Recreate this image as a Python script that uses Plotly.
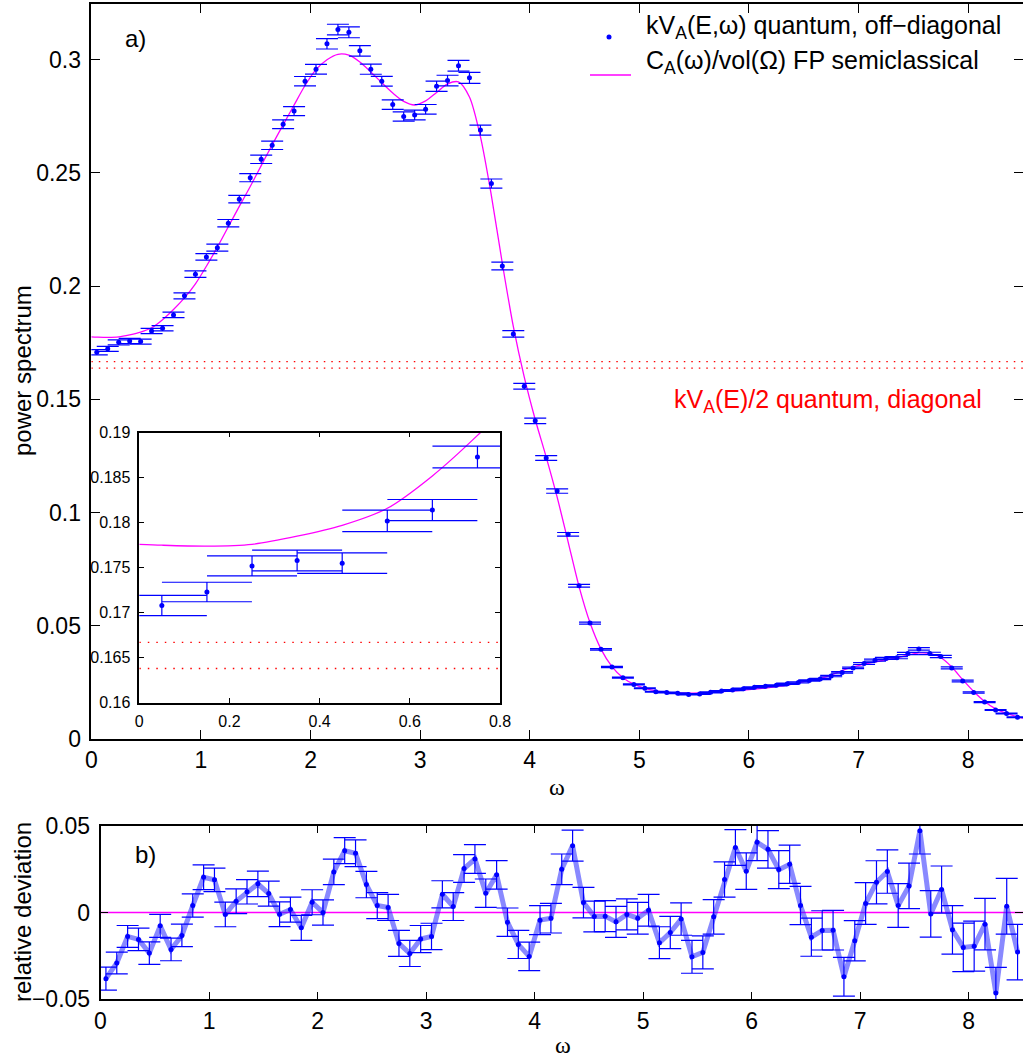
import plotly.graph_objects as go

W, H = 1023, 1059

# ---------------- data ----------------
omega = [0.05, 0.15, 0.25, 0.35, 0.45, 0.55, 0.65, 0.75, 0.85, 0.95,
         1.05, 1.15, 1.25, 1.35, 1.45, 1.55, 1.65, 1.75, 1.85, 1.95,
         2.05, 2.15, 2.25, 2.35, 2.45, 2.55, 2.65, 2.75, 2.85, 2.95,
         3.05, 3.15, 3.25, 3.35, 3.45, 3.55, 3.65, 3.75, 3.85, 3.95,
         4.05, 4.15, 4.25, 4.35, 4.45, 4.55, 4.65, 4.75, 4.85, 4.95,
         5.05, 5.15, 5.25, 5.35, 5.45, 5.55, 5.65, 5.75, 5.85, 5.95,
         6.05, 6.15, 6.25, 6.35, 6.45, 6.55, 6.65, 6.75, 6.85, 6.95,
         7.05, 7.15, 7.25, 7.35, 7.45, 7.55, 7.65, 7.75, 7.85, 7.95,
         8.05, 8.15, 8.25, 8.35, 8.45]

# kV_A(E, omega) quantum off-diagonal
quantum = [0.1708, 0.1723, 0.1752, 0.1758, 0.1755, 0.1802, 0.1814, 0.1873, 0.1957, 0.2053,
           0.2129, 0.2170, 0.2278, 0.2384, 0.2479, 0.2560, 0.2622, 0.2715, 0.2773, 0.2905,
           0.2958, 0.3070, 0.3133, 0.3121, 0.3039, 0.2958, 0.2905, 0.2802, 0.2749, 0.2756,
           0.2781, 0.2883, 0.2908, 0.2973, 0.2920, 0.2689, 0.2453, 0.2089, 0.1789, 0.1558,
           0.1405, 0.1241, 0.1095, 0.0904, 0.0677, 0.0512, 0.0396, 0.0318, 0.0271, 0.0241,
           0.0224, 0.0209, 0.0205, 0.0202, 0.0197, 0.0199, 0.0206, 0.0212, 0.0216, 0.0222,
           0.0228, 0.0233, 0.0237, 0.0244, 0.0250, 0.0258, 0.0265, 0.0278, 0.0294, 0.0314,
           0.0333, 0.0348, 0.0356, 0.0359, 0.0378, 0.0398, 0.0378, 0.0364, 0.0314, 0.0256,
           0.0205, 0.0163, 0.0128, 0.0113, 0.0096]

# relative deviation (panel b)
deviation = [-0.0381, -0.0291, -0.0138, -0.0155, -0.0234, -0.0077, -0.0213, -0.0132, 0.0040, 0.0203,
             0.0188, -0.0011, 0.0065, 0.0119, 0.0165, 0.0109, -0.0010, 0.0017, -0.0088, 0.0059,
             0.0000, 0.0234, 0.0356, 0.0341, 0.0161, 0.0040, 0.0029, -0.0178, -0.0236, -0.0153,
             -0.0138, 0.0105, 0.0034, 0.0253, 0.0308, 0.0111, 0.0217, -0.0056, -0.0184, -0.0253,
             -0.0044, -0.0033, 0.0249, 0.0385, 0.0057, -0.0023, -0.0021, -0.0054, -0.0011, -0.0033,
             0.0013, -0.0174, -0.0115, -0.0038, -0.0255, -0.0230, -0.0025, 0.0190, 0.0374, 0.0238,
             0.0404, 0.0364, 0.0247, 0.0278, 0.0040, -0.0142, -0.0103, -0.0102, -0.0370, -0.0163,
             0.0052, 0.0174, 0.0236, 0.0040, 0.0153, 0.0471, -0.0008, 0.0132, -0.0100, -0.0201,
             -0.0194, -0.0067, -0.0464, 0.0036, -0.0228]

# relative statistical error (half-height of bars in panel b)
rel_err = [0.0066, 0.0063, 0.0063, 0.0065, 0.0065, 0.0066, 0.0065, 0.0065, 0.0067, 0.0071,
           0.0068, 0.0071, 0.0071, 0.0070, 0.0073, 0.0072, 0.0071, 0.0072, 0.0072, 0.0072,
           0.0073, 0.0074, 0.0075, 0.0077, 0.0076, 0.0075, 0.0075, 0.0075, 0.0075, 0.0078,
           0.0076, 0.0078, 0.0080, 0.0080, 0.0083, 0.0082, 0.0082, 0.0082, 0.0081, 0.0082,
           0.0084, 0.0085, 0.0088, 0.0089, 0.0088, 0.0089, 0.0089, 0.0089, 0.0089, 0.0091,
           0.0091, 0.0092, 0.0093, 0.0093, 0.0095, 0.0095, 0.0099, 0.0102, 0.0103, 0.0105,
           0.0105, 0.0108, 0.0109, 0.0110, 0.0110, 0.0110, 0.0113, 0.0114, 0.0112, 0.0116,
           0.0120, 0.0124, 0.0125, 0.0126, 0.0131, 0.0134, 0.0134, 0.0136, 0.0140, 0.0140,
           0.0144, 0.0148, 0.0148, 0.0160, 0.0160]

# C_A(omega)/vol(Omega) FP semiclassical curve
curve_x = [0.0, 0.05, 0.15, 0.25, 0.35, 0.45, 0.55, 0.65, 0.75, 0.85, 0.95,
           1.05, 1.15, 1.25, 1.35, 1.45, 1.55, 1.65, 1.75, 1.85, 1.95,
           2.05, 2.15, 2.25, 2.35, 2.45, 2.55, 2.65, 2.75, 2.85, 2.95,
           3.05, 3.15, 3.25, 3.35, 3.45, 3.55, 3.65, 3.75, 3.85, 3.95,
           4.05, 4.15, 4.25, 4.35, 4.45, 4.55, 4.65, 4.75, 4.85, 4.95,
           5.05, 5.15, 5.25, 5.35, 5.45, 5.55, 5.65, 5.75, 5.85, 5.95,
           6.05, 6.15, 6.25, 6.35, 6.45, 6.55, 6.65, 6.75, 6.85, 6.95,
           7.05, 7.15, 7.25, 7.35, 7.45, 7.55, 7.65, 7.75, 7.85, 7.95,
           8.05, 8.15, 8.25, 8.35, 8.45, 8.5]
curve_y = [0.1776, 0.1775, 0.1774, 0.1776, 0.1785, 0.1797, 0.1816, 0.1852, 0.1897, 0.1948, 0.2010,
           0.2088, 0.2172, 0.2262, 0.2352, 0.2440, 0.2532, 0.2624, 0.2712, 0.2800, 0.2886,
           0.2956, 0.3000, 0.3024, 0.3020, 0.2990, 0.2946, 0.2898, 0.2853, 0.2816, 0.2800,
           0.2818, 0.2855, 0.2893, 0.2902, 0.2835, 0.2660, 0.2400, 0.2100, 0.1822, 0.1598,
           0.1411, 0.1245, 0.1068, 0.0871, 0.0673, 0.0513, 0.0397, 0.0320, 0.0271, 0.0242,
           0.0224, 0.0213, 0.0207, 0.0204, 0.0203, 0.0204, 0.0206, 0.0209, 0.0212, 0.0216,
           0.0220, 0.0225, 0.0231, 0.0238, 0.0248, 0.0259, 0.0268, 0.0282, 0.0302, 0.0318,
           0.0331, 0.0341, 0.0349, 0.0358, 0.0370, 0.0380, 0.0378, 0.0360, 0.0318, 0.0262,
           0.0210, 0.0166, 0.0133, 0.0113, 0.0098, 0.0092]

# kV_A(E)/2 quantum diagonal levels
diag_levels = [0.1667, 0.1638]

x_ticks = [0, 1, 2, 3, 4, 5, 6, 7, 8]

# absolute error of the quantum points
err_main = [r * q for r, q in zip(rel_err, quantum)]

BLUE = "#0000FF"
MAG = "#FF00FF"
RED = "#FF0000"
FONT = "Liberation Sans, Arial, sans-serif"


def px(x):
    return x / W


def py(y):
    return 1 - y / H


fig = go.Figure()

# ---------- main panel ----------
for lev in diag_levels:
    fig.add_trace(go.Scatter(x=[0, 8.5], y=[lev, lev], mode="lines",
                             line=dict(color=RED, width=1.3, dash="1.5px,6px"),
                             xaxis="x", yaxis="y", showlegend=False, hoverinfo="skip"))
fig.add_trace(go.Scatter(x=curve_x, y=curve_y, mode="lines",
                         line=dict(color=MAG, width=1.3, shape="spline", smoothing=0.8),
                         xaxis="x", yaxis="y", showlegend=False))
fig.add_trace(go.Scatter(x=omega, y=quantum, mode="markers",
                         marker=dict(color=BLUE, size=5),
                         error_y=dict(type="data", array=err_main, color=BLUE,
                                      thickness=1.2, width=11),
                         xaxis="x", yaxis="y", showlegend=False))

# ---------- inset ----------
for lev in diag_levels:
    fig.add_trace(go.Scatter(x=[0, 0.8], y=[lev, lev], mode="lines",
                             line=dict(color=RED, width=1.3, dash="1.5px,7px"),
                             xaxis="x3", yaxis="y3", showlegend=False, hoverinfo="skip"))
fig.add_trace(go.Scatter(x=curve_x, y=curve_y, mode="lines",
                         line=dict(color=MAG, width=1.3, shape="spline", smoothing=0.8),
                         xaxis="x3", yaxis="y3", showlegend=False))
fig.add_trace(go.Scatter(x=omega, y=quantum, mode="markers",
                         marker=dict(color=BLUE, size=5),
                         error_y=dict(type="data", array=err_main, color=BLUE,
                                      thickness=1.2, width=45),
                         xaxis="x3", yaxis="y3", showlegend=False))

# ---------- panel b ----------
fig.add_trace(go.Scatter(x=[0, 8.5], y=[0, 0], mode="lines",
                         line=dict(color=MAG, width=1.5),
                         xaxis="x2", yaxis="y2", showlegend=False, hoverinfo="skip"))
fig.add_trace(go.Scatter(x=omega, y=deviation, mode="lines",
                         line=dict(color="rgba(40,40,255,0.55)", width=5),
                         xaxis="x2", yaxis="y2", showlegend=False, hoverinfo="skip"))
fig.add_trace(go.Scatter(x=omega, y=deviation, mode="markers",
                         marker=dict(color=BLUE, size=5),
                         error_y=dict(type="data", array=rel_err, color=BLUE,
                                      thickness=1.2, width=11),
                         xaxis="x2", yaxis="y2", showlegend=False))

axis_common = dict(showline=True, linecolor="black", linewidth=1.5, mirror="ticks",
                   ticks="inside", tickcolor="black", showgrid=False, zeroline=False)

fig.update_layout(
    width=W, height=H, autosize=False,
    margin=dict(l=0, r=0, t=0, b=0, pad=0, autoexpand=False),
    paper_bgcolor="white", plot_bgcolor="white",
    font=dict(family=FONT, color="black"),
    xaxis=dict(domain=[px(91.3), 1.0], range=[0, 8.5], tickvals=x_ticks,
               ticklen=9, tickfont=dict(size=23), ticklabelstandoff=0,
               anchor="y", **axis_common),
    yaxis=dict(domain=[py(739), py(4)], range=[0, 0.3246], dtick=0.05, tick0=0,
               ticklen=9, tickfont=dict(size=23), ticklabelstandoff=4,
               anchor="x", **axis_common),
    xaxis2=dict(domain=[px(100.5), 1.0], range=[0, 8.5], tickvals=x_ticks,
                ticklen=8, tickfont=dict(size=23), ticklabelstandoff=0,
                anchor="y2", **axis_common),
    yaxis2=dict(domain=[py(999.3), py(825.7)], range=[-0.05, 0.05],
                tickvals=[-0.05, 0, 0.05], ticklen=8, tickfont=dict(size=23),
                ticklabelstandoff=4, anchor="x2", **axis_common),
    xaxis3=dict(domain=[px(139.3), px(500)], range=[0, 0.8], dtick=0.2, tick0=0,
                ticklen=5, tickfont=dict(size=16), ticklabelstandoff=3,
                anchor="y3", **axis_common),
    yaxis3=dict(domain=[py(702.7), py(432.7)], range=[0.16, 0.19], dtick=0.005, tick0=0.16,
                ticklen=5, tickfont=dict(size=16), ticklabelstandoff=4,
                anchor="x3", **axis_common),
)

ann = []
# panel labels
ann.append(dict(x=px(123), y=py(39), xref="paper", yref="paper", text="a)",
                showarrow=False, xanchor="left", yanchor="middle", font=dict(size=24)))
ann.append(dict(x=px(133), y=py(854), xref="paper", yref="paper", text="b)",
                showarrow=False, xanchor="left", yanchor="middle", font=dict(size=24)))
# axis titles
ann.append(dict(x=px(22), y=py(371), xref="paper", yref="paper", text="power spectrum",
                showarrow=False, textangle=-90, xanchor="center", yanchor="middle",
                font=dict(size=24)))
ann.append(dict(x=px(22), y=py(912), xref="paper", yref="paper", text="relative deviation",
                showarrow=False, textangle=-90, xanchor="center", yanchor="middle",
                font=dict(size=24)))
ann.append(dict(x=px(557), y=py(787), xref="paper", yref="paper", text="ω",
                showarrow=False, xanchor="center", yanchor="middle",
                font=dict(size=24, family="Liberation Serif, Times New Roman, serif")))
ann.append(dict(x=px(563), y=py(1045), xref="paper", yref="paper", text="ω",
                showarrow=False, xanchor="center", yanchor="middle",
                font=dict(size=24, family="Liberation Serif, Times New Roman, serif")))
# legend text
ann.append(dict(x=px(644), y=py(9), xref="paper", yref="paper",
                text="kV<sub>A</sub>(E,ω) quantum, off−diagonal",
                showarrow=False, xanchor="left", yanchor="top", font=dict(size=25)))
ann.append(dict(x=px(644), y=py(44), xref="paper", yref="paper",
                text="C<sub>A</sub>(ω)/vol(Ω) FP semiclassical",
                showarrow=False, xanchor="left", yanchor="top", font=dict(size=25)))
# diagonal label
ann.append(dict(x=px(672), y=py(383), xref="paper", yref="paper",
                text="kV<sub>A</sub>(E)/2 quantum, diagonal",
                showarrow=False, xanchor="left", yanchor="top",
                font=dict(size=25, color=RED)))
fig.update_layout(annotations=ann)

# legend symbols
fig.add_shape(type="circle", xref="paper", yref="paper",
              x0=px(606.5), x1=px(611.5), y0=py(39.5), y1=py(34.5),
              fillcolor=BLUE, line=dict(color=BLUE, width=0))
fig.add_shape(type="line", xref="paper", yref="paper",
              x0=px(590), x1=px(631), y0=py(75), y1=py(75),
              line=dict(color=MAG, width=1.3))

post = ("document.documentElement.style.margin='0';"
        "document.body.style.margin='0';document.body.style.padding='0';"
        "document.body.style.overflow='hidden';"
        "var gd=document.getElementById('{plot_id}');"
        "gd.style.width='%dpx';gd.style.height='%dpx';"
        "Plotly.relayout(gd,{width:%d,height:%d});" % (W, H, W, H))

fig.write_html("out.html", config={"responsive": False}, post_script=post)
